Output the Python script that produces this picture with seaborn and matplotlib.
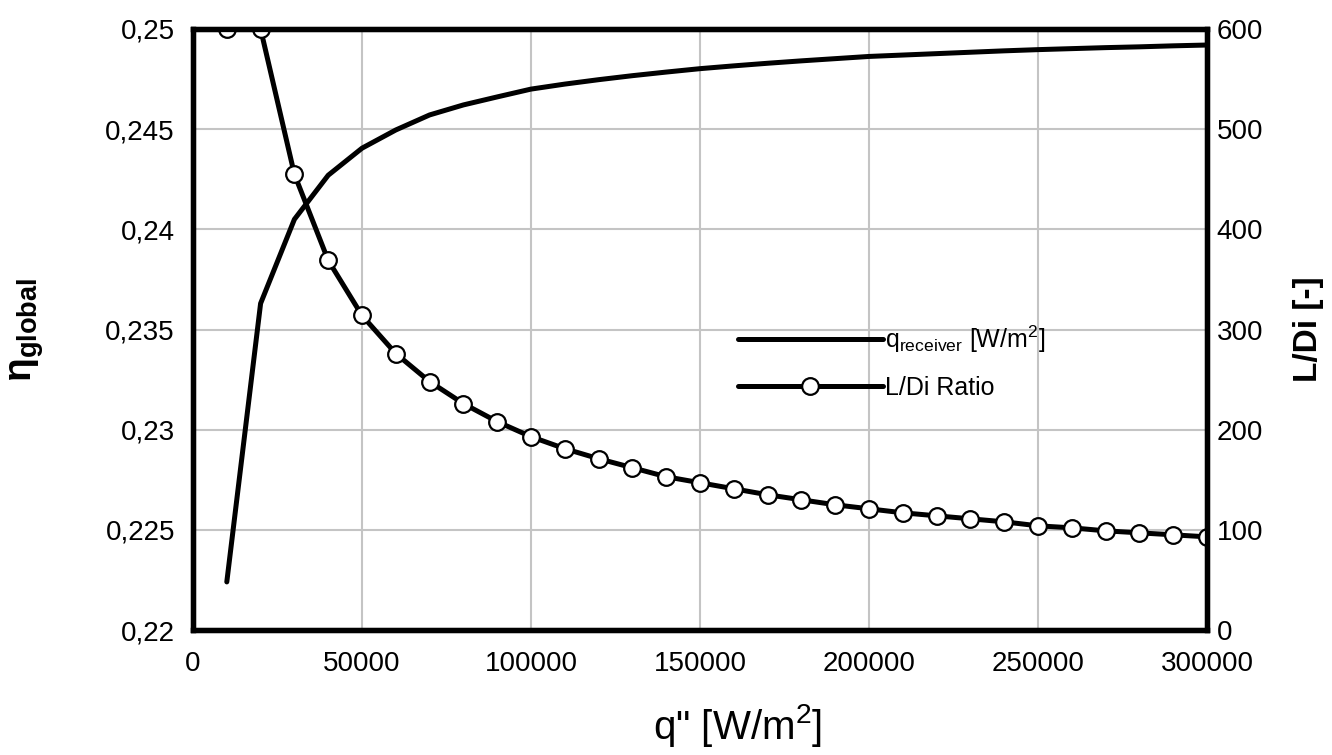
import numpy as np
import pandas as pd
import matplotlib
matplotlib.use("Agg")
import matplotlib.pyplot as plt
from matplotlib.ticker import FuncFormatter, MultipleLocator
import seaborn as sns

# データ
q_flux = [10000, 20000, 30000, 40000, 50000, 60000, 70000, 80000, 90000, 100000,
          110000, 120000, 130000, 140000, 150000, 160000, 170000, 180000, 190000, 200000,
          210000, 220000, 230000, 240000, 250000, 260000, 270000, 280000, 290000, 300000]

eta_global = [0.22240, 0.23630, 0.24050, 0.24270, 0.24405, 0.24496, 0.24571, 0.24621, 0.24661, 0.24700,
              0.24725, 0.24747, 0.24767, 0.24785, 0.24802, 0.24816, 0.24829, 0.24841, 0.24852, 0.24863,
              0.24870, 0.24877, 0.24884, 0.24891, 0.24897, 0.24902, 0.24907, 0.24911, 0.24916, 0.24920]

ld_ratio = [600, 600, 455, 369, 314, 276, 248, 226, 208, 193,
            181, 171, 162, 153, 147, 141, 135, 130, 125, 121,
            117, 114, 111, 108, 104, 102, 99, 97, 95, 93]

df = pd.DataFrame({'q': q_flux, 'eta': eta_global, 'ld': ld_ratio})

sns.set_style("white")
plt.rcParams['font.family'] = ['Liberation Sans', 'DejaVu Sans']
plt.rcParams['text.color'] = 'black'
plt.rcParams['axes.labelcolor'] = 'black'
plt.rcParams['xtick.color'] = 'black'
plt.rcParams['ytick.color'] = 'black'
plt.rcParams['mathtext.fontset'] = 'custom'
plt.rcParams['mathtext.rm'] = 'Liberation Sans'
plt.rcParams['mathtext.it'] = 'Liberation Sans'
plt.rcParams['mathtext.bf'] = 'Liberation Sans:bold'

fig = plt.figure(figsize=(13.32, 7.55), dpi=100)
ax = fig.add_axes([193 / 1332, 1 - 630 / 755, (1207 - 193) / 1332, (630 - 29) / 755])
ax2 = ax.twinx()

# 左軸：q_receiver 曲線
sns.lineplot(data=df, x='q', y='eta', ax=ax, color='black', linewidth=3.6,
             label=r'q$_{\mathrm{receiver}}$ [W/m$^{2}$]', legend=False)

# 右軸：L/Di 比
sns.lineplot(data=df, x='q', y='ld', ax=ax2, color='black', linewidth=3.6,
             marker='o', markersize=12, markerfacecolor='white',
             markeredgecolor='black', markeredgewidth=1.6,
             label='L/Di Ratio', legend=False, clip_on=True)

ax.set_xlim(0, 300000)
ax.set_ylim(0.22, 0.25)
ax2.set_ylim(0, 600)
ax.xaxis.set_major_locator(MultipleLocator(50000))
ax.yaxis.set_major_locator(MultipleLocator(0.005))
ax2.yaxis.set_major_locator(MultipleLocator(100))
ax.yaxis.set_major_formatter(FuncFormatter(lambda v, p: f'{v:g}'.replace('.', ',')))
ax.xaxis.set_major_formatter(FuncFormatter(lambda v, p: f'{v:.0f}'))

ax.grid(True, color='#c4c4c4', linewidth=1.5)
ax.set_axisbelow(True)

for a in (ax, ax2):
    for s in a.spines.values():
        s.set_linewidth(3.8)
        s.set_color('black')
ax.tick_params(axis='both', length=0, labelsize=20)
ax.tick_params(axis='y', pad=13)
ax.tick_params(axis='x', pad=15)
ax2.tick_params(axis='y', length=0, labelsize=20, pad=7)

ax.set_xlabel('q" [W/m$^{2}$]', fontsize=29)
ax.xaxis.set_label_coords(0.537, -0.12)
ax.set_ylabel(r'$\mathbf{\eta_{global}}$', fontsize=28)
ax.yaxis.set_label_coords(-0.145, 0.5)
ax2.set_ylabel('L/Di [-]', fontsize=24, fontweight='bold')
ax2.yaxis.set_label_coords(1.085, 0.5)

h1, l1 = ax.get_legend_handles_labels()
h2, l2 = ax2.get_legend_handles_labels()
ax2.legend(h1 + h2, l1 + l2, loc='upper left', bbox_to_anchor=(0.537, 0.51),
           frameon=False, fontsize=18, handlelength=5.8, handletextpad=0.1,
           labelspacing=0.85, borderpad=0, borderaxespad=0)

plt.savefig('out.png', dpi=100)
